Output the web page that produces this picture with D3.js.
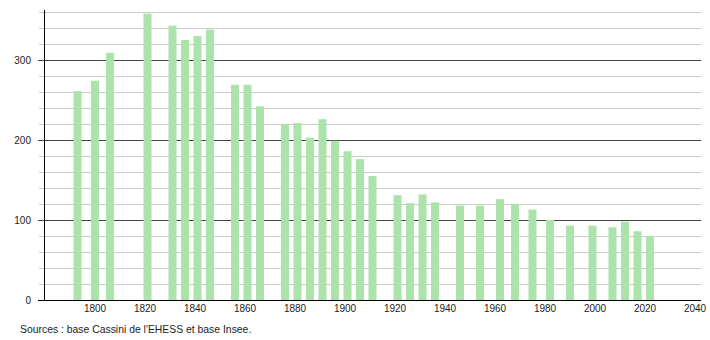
<!DOCTYPE html>
<html>
<head>
<meta charset="utf-8">
<script src="https://cdn.jsdelivr.net/npm/d3@7"></script>
<style>
  body { margin: 0; background: #fff; }
  text { font-family: "Liberation Sans", Arial, sans-serif; }
</style>
</head>
<body>
<div id="chart"></div>
<script>
// années de recensement
const years = [1793, 1800, 1806, 1821, 1831, 1836, 1841, 1846, 1856, 1861, 1866,
  1876, 1881, 1886, 1891, 1896, 1901, 1906, 1911, 1921, 1926, 1931, 1936,
  1946, 1954, 1962, 1968, 1975, 1982, 1990, 1999, 2007, 2012, 2017, 2022];
// population
const population = [261, 274, 309, 358, 343, 325, 330, 338, 269, 269, 242,
  219, 221, 203, 226, 199, 186, 176, 155, 131, 121, 132, 122,
  118, 118, 126, 120, 113, 100, 93, 93, 91, 98, 86, 80];
const xTicks = [1800, 1820, 1840, 1860, 1880, 1900, 1920, 1940, 1960, 1980, 2000, 2020, 2040];
const yTicks = [0, 100, 200, 300];
const yMinor = d3.range(20, 361, 20).filter(v => v % 100 !== 0);

const width = 710, height = 340;
const mLeft = 44, mRight = 701, mTop = 10, mBottom = 300;

const svg = d3.select("#chart").append("svg")
  .attr("width", width)
  .attr("height", height);

const x = d3.scaleLinear().domain([1779.6, 2042.4]).range([mLeft, mRight]);
const y = d3.scaleLinear().domain([0, 362.5]).range([mBottom, mTop]);

// grille secondaire
svg.append("g").selectAll("line")
  .data(yMinor)
  .enter().append("line")
  .attr("x1", mLeft - 5).attr("x2", mRight)
  .attr("y1", d => Math.round(y(d)) + 0.5).attr("y2", d => Math.round(y(d)) + 0.5)
  .attr("stroke", "#cbcbcb")
  .attr("stroke-width", 1);

// grille principale
svg.append("g").selectAll("line")
  .data(yTicks.filter(d => d > 0))
  .enter().append("line")
  .attr("x1", mLeft - 6).attr("x2", mRight)
  .attr("y1", d => Math.round(y(d)) + 0.5).attr("y2", d => Math.round(y(d)) + 0.5)
  .attr("stroke", "#444")
  .attr("stroke-width", 1);

// barres
const barW = x(1801.6) - x(1798.4);
svg.append("g").selectAll("rect")
  .data(years)
  .enter().append("rect")
  .attr("x", d => x(d) - barW / 2)
  .attr("y", (d, i) => y(population[i]))
  .attr("width", barW)
  .attr("height", (d, i) => y(0) - y(population[i]))
  .attr("fill", "#abe3ab");

// axes
svg.append("line")
  .attr("x1", mLeft + 0.5).attr("x2", mLeft + 0.5)
  .attr("y1", mTop).attr("y2", mBottom)
  .attr("stroke", "#000");
svg.append("line")
  .attr("x1", mLeft - 6).attr("x2", mRight)
  .attr("y1", mBottom + 0.5).attr("y2", mBottom + 0.5)
  .attr("stroke", "#000");

svg.append("g").selectAll("text")
  .data(yTicks)
  .enter().append("text")
  .attr("x", 31)
  .attr("y", d => y(d) + 3.5)
  .attr("text-anchor", "end")
  .attr("font-size", 10)
  .attr("fill", "#222")
  .text(d => d);

svg.append("g").selectAll("text")
  .data(xTicks)
  .enter().append("text")
  .attr("x", d => x(d))
  .attr("y", 312)
  .attr("text-anchor", "middle")
  .attr("font-size", 10)
  .attr("fill", "#222")
  .text(d => d);

svg.append("text")
  .attr("x", 20)
  .attr("y", 333)
  .attr("font-size", 10.4)
  .attr("fill", "#222")
  .text("Sources : base Cassini de l'EHESS et base Insee.");
</script>
</body>
</html>
